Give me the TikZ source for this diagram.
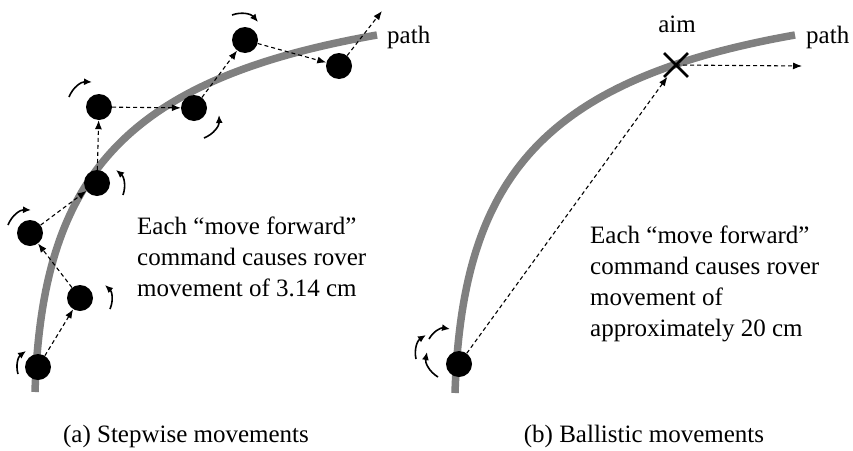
\documentclass[tikz,border=0pt]{standalone}
\usepackage{fontspec}
\setmainfont{Liberation Serif}
\usetikzlibrary{arrows.meta,shapes.misc}

\tikzset{
  rover/.style={circle,fill=black,inner sep=0pt,minimum size=26pt},
  route/.style={line width=7.5pt,draw=black!50},
  hop/.style={dash pattern=on 4pt off 3pt,line width=1.1pt,-{Latex[length=9pt,width=7pt]}},
  turn/.style={line width=1.6pt,-{Latex[length=8pt,width=7pt]}},
  label/.style={font=\fontsize{25}{31}\selectfont,inner sep=0pt}
}

\begin{document}
\begin{tikzpicture}[x=1pt,y=-1pt]
        \useasboundingbox (0,0) rectangle (853,450);
        % (a) stepwise
        \draw[route] (35,392) .. controls (42,180) and (120,80) .. (377,35);
        \node[rover] (r1) at (38,367) {};
        \node[rover] (r2) at (80,298) {};
        \node[rover] (r3) at (30,233) {};
        \node[rover] (r4) at (97,183) {};
        \node[rover] (r5) at (99,107) {};
        \node[rover] (r6) at (194,108) {};
        \node[rover] (r7) at (245,40) {};
        \node[rover] (r8) at (339,66) {};
        \coordinate (next) at (382,11);
        \draw[hop] (r1) -- (r2);
        \draw[hop] (r2) -- (r3);
        \draw[hop] (r3) -- (r4);
        \draw[hop] (r4) -- (r5);
        \draw[hop] (r5) -- (r6);
        \draw[hop] (r6) -- (r7);
        \draw[hop] (r7) -- (r8);
        \draw[hop] (r8) -- (next);
        % turning on the spot
        \draw[turn] (18,374) to[bend left=35] (26,351);
        \draw[turn] (110,309) to[bend right=35] (105,285);
        \draw[turn] (8,225) to[bend left=35] (31,210);
        \draw[turn] (123,195) to[bend right=35] (116,170);
        \draw[turn] (69,97) to[bend left=35] (92,82);
        \draw[turn] (204,138) to[bend right=35] (219,115);
        \draw[turn] (232,15) to[bend left=35] (258,22);
        \node[label,anchor=base west] (pa) at (387,43) {path};
        \node[label,anchor=north west,align=left] (ta) at (137,217)
          {Each “move forward”\\command causes rover\\movement of 3.14 cm};
        \node[label,anchor=base] (ca) at (186,442) {(a) Stepwise movements};
        % (b) ballistic
        \draw[route] (455,393) .. controls (462,180) and (540,80) .. (795,35);
        \node[rover] (r0) at (459,364) {};
        \node[cross out,draw,line width=2.8pt,minimum size=21pt,inner sep=0pt] (aim) at (676,65) {};
        \coordinate (beyond) at (802,66);
        \draw[hop] (r0) -- (aim);
        \draw[hop] (aim.center) -- (beyond);
        \draw[turn] (416,359) to[bend left=35] (426,335);
        \draw[turn] (429,339) to[bend left=35] (450,329);
        \draw[turn] (438,377) to[bend left=35] (427,352);
        \node[label,anchor=base] (al) at (677,32) {aim};
        \node[label,anchor=base west] (pb) at (806,43) {path};
        \node[label,anchor=north west,align=left] (tb) at (590,226)
          {Each “move forward”\\command causes rover\\movement of\\approximately 20 cm};
        \node[label,anchor=base] (cb) at (644,442) {(b) Ballistic movements};
\end{tikzpicture}
\end{document}
